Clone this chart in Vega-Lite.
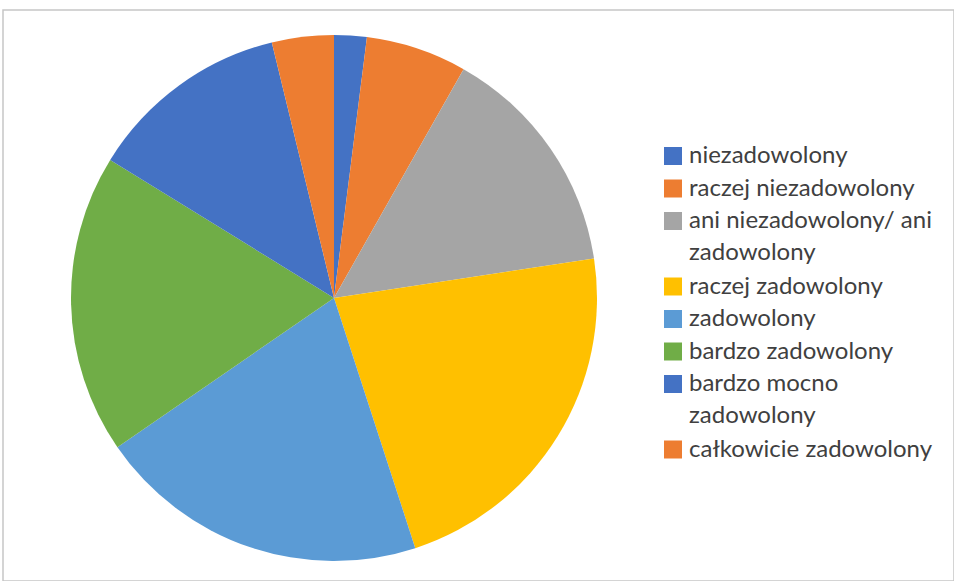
{
  "$schema": "https://vega.github.io/schema/vega-lite/v6.json",
  "width": 951,
  "height": 571,
  "autosize": {"type": "none"},
  "padding": {"left": 3, "top": 10, "right": 0, "bottom": 0},
  "background": "white",
  "config": {
    "view": {"stroke": "#c6c6c6", "strokeWidth": 1.5},
    "font": "Lato",
    "style": {"guide-label": {"lineHeight": 32.4}}
  },
  "data": {
    "values": [
      {"kategoria": "niezadowolony", "procent": 2.0, "kolejnosc": 1},
      {"kategoria": "raczej niezadowolony", "procent": 6.2, "kolejnosc": 2},
      {"kategoria": "ani niezadowolony/ ani zadowolony", "procent": 14.4, "kolejnosc": 3},
      {"kategoria": "raczej zadowolony", "procent": 22.4, "kolejnosc": 4},
      {"kategoria": "zadowolony", "procent": 20.4, "kolejnosc": 5},
      {"kategoria": "bardzo zadowolony", "procent": 18.4, "kolejnosc": 6},
      {"kategoria": "bardzo mocno zadowolony", "procent": 12.4, "kolejnosc": 7},
      {"kategoria": "całkowicie zadowolony", "procent": 3.8, "kolejnosc": 8}
    ]
  },
  "mark": {"type": "arc", "outerRadius": 263},
  "encoding": {
    "x": {"value": 331},
    "y": {"value": 288},
    "theta": {"field": "procent", "type": "quantitative", "stack": true},
    "order": {"field": "kolejnosc", "type": "quantitative"},
    "color": {
      "field": "kategoria",
      "type": "nominal",
      "scale": {
        "domain": ["niezadowolony", "raczej niezadowolony", "ani niezadowolony/ ani zadowolony", "raczej zadowolony", "zadowolony", "bardzo zadowolony", "bardzo mocno zadowolony", "całkowicie zadowolony"],
        "range": ["#4472C4", "#ED7D31", "#A5A5A5", "#FFC000", "#5B9BD5", "#70AD47", "#4472C4", "#ED7D31"]
      },
      "legend": {
        "title": null,
        "orient": "none",
        "legendX": 658,
        "legendY": 134,
        "symbolType": "square",
        "symbolSize": 324,
        "symbolStrokeWidth": 0,
        "labelFont": "Lato",
        "labelFontSize": 24,
        "labelColor": "#404040",
        "labelLimit": 320,
        "labelOffset": 4,
        "rowPadding": 8.5,
        "labelExpr": "datum.label == 'ani niezadowolony/ ani zadowolony' ? ['ani niezadowolony/ ani', 'zadowolony'] : datum.label == 'bardzo mocno zadowolony' ? ['bardzo mocno', 'zadowolony'] : datum.label"
      }
    }
  }
}
